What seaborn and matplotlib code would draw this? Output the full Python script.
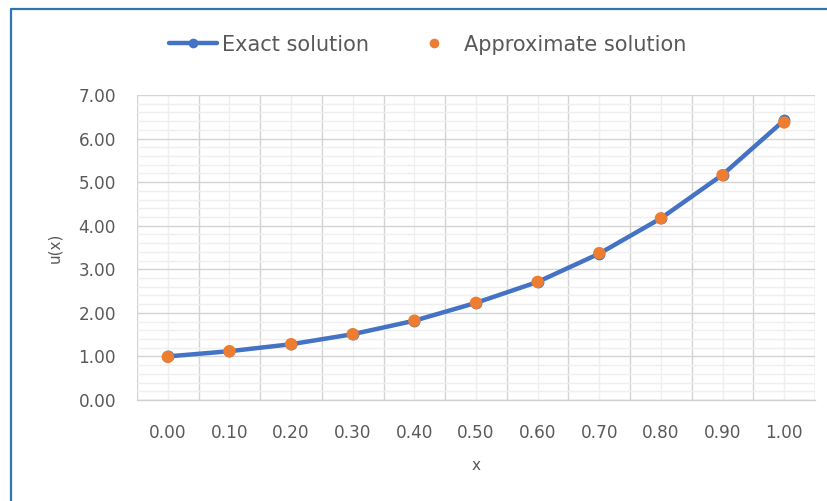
import numpy as np
import pandas as pd
import matplotlib
matplotlib.use("Agg")
import matplotlib.pyplot as plt
from matplotlib.lines import Line2D
from matplotlib.ticker import MultipleLocator, FixedLocator, FixedFormatter
import seaborn as sns

# ---- data ----
x_vals = [0.0, 0.1, 0.2, 0.3, 0.4, 0.5, 0.6, 0.7, 0.8, 0.9, 1.0]
x_labels = ["0.00", "0.10", "0.20", "0.30", "0.40", "0.50", "0.60", "0.70", "0.80", "0.90", "1.00"]
exact = [1.00, 1.12, 1.28, 1.51, 1.82, 2.23, 2.71, 3.36, 4.17, 5.17, 6.42]
approx = [0.99, 1.12, 1.28, 1.51, 1.82, 2.23, 2.71, 3.37, 4.17, 5.16, 6.37]
y_ticks = [0, 1, 2, 3, 4, 5, 6, 7]
y_tick_labels = ["0.00", "1.00", "2.00", "3.00", "4.00", "5.00", "6.00", "7.00"]

BLUE = "#4472C4"
ORANGE = "#ED7D31"
TXT = "#595959"

sns.set_theme(style="white")
plt.rcParams["font.family"] = ["DejaVu Sans"]

fig = plt.figure(figsize=(8.28, 5.01), dpi=100)
ax = fig.add_axes([137 / 828, 1 - 400 / 501, (815 - 137) / 828, (400 - 95) / 501])

df = pd.DataFrame({"x": x_vals, "exact": exact, "approx": approx})

sns.lineplot(data=df, x="x", y="exact", ax=ax, color=BLUE, linewidth=3.2,
             marker="o", markersize=8.5, markeredgewidth=0, markerfacecolor=BLUE,
             label="Exact solution", zorder=3)
sns.scatterplot(data=df, x="x", y="approx", ax=ax, color=ORANGE, s=80,
                edgecolor="none", label="Approximate solution", zorder=4)

ax.set_xlim(-0.05, 1.05)
ax.set_ylim(0, 7)

# Excel-style category axis: labels at category centers, major grid at boundaries
ax.xaxis.set_major_locator(FixedLocator(x_vals))
ax.xaxis.set_major_formatter(FixedFormatter(x_labels))
ax.xaxis.set_minor_locator(FixedLocator([v - 0.05 for v in x_vals] + [1.05]))
ax.yaxis.set_major_locator(FixedLocator(y_ticks))
ax.yaxis.set_major_formatter(FixedFormatter(y_tick_labels))
ax.yaxis.set_minor_locator(MultipleLocator(0.2))

ax.grid(False)
ax.grid(axis="x", which="minor", color="#D4D4D4", linewidth=1.0, zorder=0)
ax.grid(axis="x", which="major", color="#EFEFEF", linewidth=1.0, zorder=0)
ax.grid(axis="y", which="major", color="#D4D4D4", linewidth=1.0, zorder=0)
ax.grid(axis="y", which="minor", color="#EFEFEF", linewidth=1.0, zorder=0)
ax.set_axisbelow(True)

for s in ["top", "left", "right"]:
    ax.spines[s].set_visible(False)
ax.spines["bottom"].set_color("#D0D0D0")
ax.spines["bottom"].set_linewidth(1.0)

ax.tick_params(axis="both", which="both", length=0)
ax.tick_params(axis="x", which="major", pad=17, labelsize=12.2, labelcolor=TXT)
ax.tick_params(axis="y", which="major", pad=15, labelsize=12.2, labelcolor=TXT)

ax.set_xlabel("x", fontsize=11, color=TXT, labelpad=12)
ax.set_ylabel("u(x)", fontsize=11, color=TXT, labelpad=12)

if ax.legend_:
    ax.legend_.remove()

# legend at top center
handles = [
    Line2D([0], [0], color=BLUE, linewidth=3.2, marker="o", markersize=7,
           markerfacecolor=BLUE, markeredgewidth=0),
    Line2D([0], [0], color=ORANGE, linestyle="none", marker="o", markersize=7,
           markeredgewidth=0),
]
fig.legend(handles, ["Exact solution", "Approximate solution"], loc="center",
           bbox_to_anchor=(0.516, 0.911), ncol=2, frameon=False,
           prop={"family": "DejaVu Sans", "size": 15}, labelcolor=TXT,
           handlelength=2.3, handletextpad=0.25, columnspacing=2.0)

# screenshot frame (top and left blue edges)
fig.add_artist(Line2D([11 / 828, 1.0], [1 - 9 / 501, 1 - 9 / 501],
                      transform=fig.transFigure, color="#2E75B6", linewidth=1.6))
fig.add_artist(Line2D([11 / 828, 11 / 828], [0, 1 - 9 / 501],
                      transform=fig.transFigure, color="#2E75B6", linewidth=1.6))

fig.savefig("out.png", dpi=100, facecolor="white")
